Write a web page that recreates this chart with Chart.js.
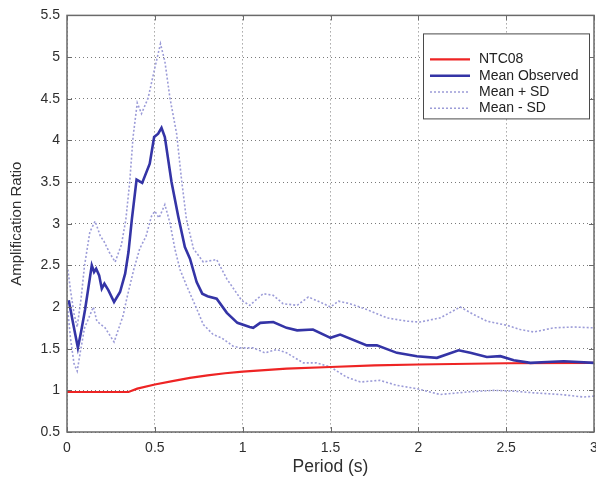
<!DOCTYPE html>
<html>
<head>
<meta charset="utf-8">
<title>Amplification Ratio vs Period</title>
<script src="https://cdn.jsdelivr.net/npm/chart.js@4.4.1/dist/chart.umd.min.js"></script>
<style>
    html, body { margin: 0; padding: 0; background: #ffffff; }
    #wrap { width: 596px; height: 484px; position: relative; }
</style>
</head>
<body>
<div id="wrap"><canvas id="chart"></canvas></div>
<script>
// Data (period in s, amplification ratio)
const xTicks = [0, 0.5, 1, 1.5, 2, 2.5, 3];
const yTicks = [0.5, 1, 1.5, 2, 2.5, 3, 3.5, 4, 4.5, 5, 5.5];

const ntcPeriod = [0, 0.35, 0.4, 0.5, 0.6, 0.7, 0.8, 0.9, 1.0, 1.25, 1.5, 1.75, 2.0, 2.5, 3.0];
const ntcValues = [0.98, 0.98, 1.02, 1.07, 1.11, 1.15, 1.18, 1.205, 1.225, 1.26, 1.28, 1.30, 1.31, 1.325, 1.33];

const obsPeriod = [0.01, 0.036, 0.062, 0.08, 0.103, 0.141, 0.154, 0.166, 0.183, 0.198, 0.213, 0.236, 0.268,
    0.302, 0.331, 0.35, 0.369, 0.396, 0.428, 0.471, 0.496, 0.519, 0.538, 0.557, 0.595, 0.633, 0.671, 0.70,
    0.738, 0.77, 0.80, 0.852, 0.91, 0.97, 1.04, 1.06, 1.10, 1.174, 1.25, 1.31, 1.40, 1.50, 1.555, 1.707,
    1.764, 1.878, 1.992, 2.106, 2.229, 2.296, 2.39, 2.467, 2.543, 2.638, 2.733, 2.828, 3.0];
const obsValues = [2.08, 1.79, 1.51, 1.70, 1.97, 2.50, 2.42, 2.46, 2.38, 2.22, 2.28, 2.20, 2.06,
    2.18, 2.40, 2.66, 3.05, 3.53, 3.49, 3.72, 4.04, 4.08, 4.15, 4.04, 3.50, 3.09, 2.72, 2.58,
    2.30, 2.16, 2.13, 2.10, 1.93, 1.81, 1.76, 1.75, 1.81, 1.82, 1.75, 1.72, 1.73, 1.63, 1.67, 1.54,
    1.54, 1.45, 1.41, 1.39, 1.48, 1.45, 1.40, 1.41, 1.36, 1.33, 1.34, 1.35, 1.33];

const upPeriod = [0.005, 0.02, 0.04, 0.058, 0.08, 0.10, 0.13, 0.16, 0.19, 0.21, 0.24, 0.274, 0.31, 0.335,
    0.357, 0.376, 0.40, 0.424, 0.462, 0.50, 0.532, 0.557, 0.586, 0.624, 0.652, 0.68, 0.72, 0.776, 0.852,
    0.909, 0.994, 1.04, 1.117, 1.174, 1.23, 1.31, 1.374, 1.44, 1.50, 1.545, 1.61, 1.707, 1.82, 1.935,
    2.01, 2.125, 2.239, 2.315, 2.39, 2.505, 2.58, 2.657, 2.77, 2.885, 3.0];
const upValues = [2.45, 2.2, 1.92, 1.76, 2.1, 2.5, 2.9, 3.03, 2.85, 2.79, 2.66, 2.54, 2.75, 3.05,
    3.5, 4.04, 4.45, 4.32, 4.51, 4.87, 5.16, 4.95, 4.51, 4.08, 3.53, 3.05, 2.70, 2.54, 2.57,
    2.34, 2.08, 2.02, 2.16, 2.14, 2.04, 2.02, 2.12, 2.06, 2.0, 2.07, 2.04, 1.97, 1.87, 1.83,
    1.82, 1.87, 2.0, 1.91, 1.83, 1.78, 1.73, 1.70, 1.75, 1.76, 1.75];

const lowPeriod = [0.005, 0.02, 0.04, 0.058, 0.075, 0.10, 0.15, 0.17, 0.217, 0.268, 0.32, 0.34, 0.38,
    0.414, 0.45, 0.481, 0.50, 0.524, 0.557, 0.586, 0.614, 0.643, 0.68, 0.738, 0.776, 0.832, 0.88,
    0.946, 0.985, 1.06, 1.127, 1.194, 1.25, 1.345, 1.42, 1.50, 1.59, 1.67, 1.78, 1.878, 1.99,
    2.125, 2.277, 2.43, 2.543, 2.657, 2.81, 2.94, 3.0];
const lowValues = [1.95, 1.62, 1.32, 1.23, 1.45, 1.75, 2.0, 1.83, 1.75, 1.58, 1.9, 2.1, 2.45,
    2.7, 2.85, 3.09, 3.15, 3.07, 3.23, 3.01, 2.7, 2.45, 2.26, 1.98, 1.79, 1.67, 1.63,
    1.53, 1.51, 1.51, 1.45, 1.49, 1.45, 1.33, 1.33, 1.28, 1.16, 1.10, 1.12, 1.06, 1.02,
    0.95, 0.98, 1.0, 0.99, 0.97, 0.95, 0.92, 0.93];

// Styles
const COLORS = {
    ntc: '#ee2424',
    obs: '#3434a6',
    sd: '#9c9cd8',
    grid: '#7a7a7a',
    frame: '#6a6a6a',
    text: '#2e2e2e'
};
const FONT = 'Arial, "Liberation Sans", sans-serif';

function toPoints(xs, ys) {
    return xs.map((x, i) => ({ x, y: ys[i] }));
}

// Inward tick marks + frame, matlab style
const framePlugin = {
    id: 'frame',
    afterDatasetsDraw(chart) {
        const { ctx, chartArea: a, scales } = chart;
        ctx.save();
        ctx.strokeStyle = COLORS.frame;
        ctx.lineWidth = 1;
        const len = 5;
        ctx.beginPath();
        xTicks.forEach(v => {
            const px = Math.round(scales.x.getPixelForValue(v)) + 0.5;
            ctx.moveTo(px, a.bottom); ctx.lineTo(px, a.bottom - len);
            ctx.moveTo(px, a.top); ctx.lineTo(px, a.top + len);
        });
        yTicks.forEach(v => {
            const py = Math.round(scales.y.getPixelForValue(v)) + 0.5;
            ctx.moveTo(a.left, py); ctx.lineTo(a.left + len, py);
            ctx.moveTo(a.right, py); ctx.lineTo(a.right - len, py);
        });
        ctx.stroke();
        ctx.lineWidth = 1.5;
        ctx.strokeRect(a.left, a.top, a.right - a.left, a.bottom - a.top);
        ctx.restore();
    }
};

// Legend box in the top right corner of the plot
const legendPlugin = {
    id: 'boxLegend',
    afterDraw(chart) {
        const { ctx, chartArea: a } = chart;
        const order = ['NTC08', 'Mean Observed', 'Mean + SD', 'Mean - SD'];
        const w = 166, h = 85;
        const left = a.right - 5 - w;
        const top = a.top + 18;
        ctx.save();
        ctx.fillStyle = '#ffffff';
        ctx.fillRect(left, top, w, h);
        ctx.strokeStyle = '#4a4a4a';
        ctx.lineWidth = 1;
        ctx.strokeRect(left + 0.5, top + 0.5, w, h);
        ctx.font = '14px ' + FONT;
        ctx.textBaseline = 'middle';
        order.forEach((label, i) => {
            const ds = chart.data.datasets.find(d => d.label === label);
            const y = top + 26 + i * 16.3;
            ctx.beginPath();
            ctx.strokeStyle = ds.borderColor;
            ctx.lineWidth = ds.borderWidth;
            ctx.setLineDash(ds.borderDash || []);
            ctx.moveTo(left + 7, y);
            ctx.lineTo(left + 47, y);
            ctx.stroke();
            ctx.setLineDash([]);
            ctx.fillStyle = '#222222';
            ctx.fillText(label, left + 56, y);
        });
        ctx.restore();
    }
};

const ctx = document.getElementById('chart').getContext('2d');
new Chart(ctx, {
    type: 'scatter',
    data: {
        datasets: [
            {
                label: 'Mean Observed',
                data: toPoints(obsPeriod, obsValues),
                borderColor: COLORS.obs,
                borderWidth: 2.6,
                showLine: true,
                pointRadius: 0
            },
            {
                label: 'NTC08',
                data: toPoints(ntcPeriod, ntcValues),
                borderColor: COLORS.ntc,
                borderWidth: 2.2,
                showLine: true,
                pointRadius: 0
            },
            {
                label: 'Mean + SD',
                data: toPoints(upPeriod, upValues),
                borderColor: COLORS.sd,
                borderWidth: 1.6,
                borderDash: [2, 2],
                showLine: true,
                pointRadius: 0
            },
            {
                label: 'Mean - SD',
                data: toPoints(lowPeriod, lowValues),
                borderColor: COLORS.sd,
                borderWidth: 1.6,
                borderDash: [2, 2],
                showLine: true,
                pointRadius: 0
            }
        ]
    },
    options: {
        responsive: true,
        maintainAspectRatio: false,
        animation: false,
        layout: { padding: { top: 10, right: 2, left: 0, bottom: 0 } },
        plugins: {
            legend: { display: false },
            tooltip: { enabled: false }
        },
        scales: {
            x: {
                type: 'linear',
                min: 0,
                max: 3,
                afterBuildTicks: scale => { scale.ticks = xTicks.map(v => ({ value: v })); },
                afterFit: scale => { scale.height = 52; scale.paddingLeft = 0; scale.paddingRight = 0; },
                grid: { color: COLORS.grid, lineWidth: 1, drawTicks: false },
                border: { display: false, dash: [1, 3] },
                ticks: {
                    padding: 8,
                    color: COLORS.text,
                    callback: v => String(v),
                    font: { family: FONT, size: 14 }
                },
                title: {
                    display: true,
                    text: 'Period (s)',
                    color: COLORS.text,
                    padding: { top: 0, bottom: 6 },
                    font: { family: FONT, size: 17.5 }
                }
            },
            y: {
                type: 'linear',
                min: 0.5,
                max: 5.5,
                afterBuildTicks: scale => { scale.ticks = yTicks.map(v => ({ value: v })); },
                afterFit: scale => { scale.width = 67; },
                grid: { color: COLORS.grid, lineWidth: 1, drawTicks: false },
                border: { display: false, dash: [1, 3] },
                ticks: {
                    padding: 7,
                    color: COLORS.text,
                    callback: v => String(v),
                    font: { family: FONT, size: 14 }
                },
                title: {
                    display: true,
                    text: 'Amplification Ratio',
                    color: COLORS.text,
                    padding: { top: 8, bottom: 0 },
                    font: { family: FONT, size: 15 }
                }
            }
        }
    },
    plugins: [framePlugin, legendPlugin]
});
</script>
</body>
</html>
